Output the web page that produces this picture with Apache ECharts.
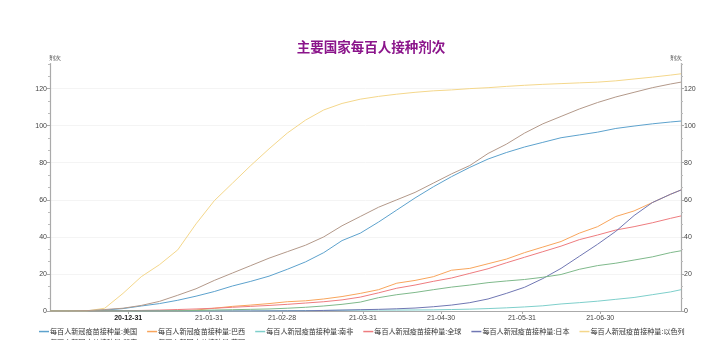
<!DOCTYPE html>
<html><head><meta charset="utf-8">
<script src="https://cdn.jsdelivr.net/npm/echarts@6/dist/echarts.min.js"></script>
<style>html,body{margin:0;padding:0;background:#fff}#c{width:706px;height:340px}</style>
</head><body><div id="c"></div>
<script>
var dates = ['2020-12-01','2020-12-08','2020-12-15','2020-12-22','2020-12-29','2021-01-05','2021-01-12','2021-01-19','2021-01-26','2021-02-02','2021-02-09','2021-02-16','2021-02-23','2021-03-02','2021-03-09','2021-03-16','2021-03-23','2021-03-30','2021-04-06','2021-04-13','2021-04-20','2021-04-27','2021-05-04','2021-05-11','2021-05-18','2021-05-25','2021-06-01','2021-06-08','2021-06-15','2021-06-22','2021-06-29','2021-07-06','2021-07-13','2021-07-20','2021-07-27','2021-07-31'];
var usa    = [0,0,0.1,0.5,1.3,2.7,4,5.8,8,10.5,13.5,16,18.8,22.5,26.5,31.5,38,42,48,54.5,61,67,72.5,77.5,82,85.5,88.5,91,93.5,95,96.5,98.5,99.8,101,102,102.5];
var brazil = [0,0,0,0,0,0,0,0,0.5,1.5,2.5,3.2,4,5,5.5,6.5,7.8,9.5,11.5,15,16.5,18.5,22,23,25.5,28,31.5,34.5,37.5,42,45.5,51,54,58.5,63,65.3];
var southAfrica = [0,0,0,0,0,0,0,0,0,0,0,0,0.1,0.2,0.25,0.3,0.4,0.45,0.5,0.5,0.55,0.6,0.8,1,1.3,1.7,2.2,2.8,3.8,4.5,5.3,6.3,7.3,8.8,10.3,11.5];
var world  = [0,0,0,0.05,0.15,0.3,0.5,0.8,1.1,1.5,2,2.5,3,3.6,4.3,5,6,7.5,9.8,12.3,14,16,17.8,20.3,22.8,26,29,32,35,38.5,41,43.7,45.5,47.6,50,51.3];
var japan  = [0,0,0,0,0,0,0,0,0,0,0,0,0.02,0.05,0.1,0.3,0.5,0.7,0.9,1.2,1.6,2.3,3.2,4.5,6.5,9.5,12.8,17.5,23,29.5,36,43,51.5,58.5,63,65.3];
var israel = [0,0,0,1.5,9.5,18.5,25,33,47,59.5,69,78.5,87.5,96,103,108.5,112,114.3,115.8,117,118,118.8,119.3,120,120.5,121.2,121.8,122.3,122.7,123.1,123.5,124.2,125.2,126.2,127.3,128];
var india  = [0,0,0,0,0,0,0,0.1,0.3,0.5,0.7,0.9,1.1,1.5,2,2.7,3.6,4.8,7.2,8.8,10,11.5,12.9,14,15.3,16.2,17,18.2,19.7,22.5,24.5,25.8,27.5,29.2,31.5,32.5];
var uk     = [0,0,0.2,0.8,1.5,3,5.2,8.5,12,16.5,20.5,24.5,28.5,32,35.5,40,46,51,56,60,64,69,74,78.5,85,90,96,101,105,109,112.5,115.5,118,120.5,122.5,123.5];
var seriesNames = ['每百人新冠疫苗接种量:美国','每百人新冠疫苗接种量:巴西','每百人新冠疫苗接种量:南非','每百人新冠疫苗接种量:全球','每百人新冠疫苗接种量:日本','每百人新冠疫苗接种量:以色列','每百人新冠疫苗接种量:印度','每百人新冠疫苗接种量:英国'];
var labelDates = ['2020-12-31','2021-01-31','2021-02-28','2021-03-31','2021-04-30','2021-05-31','2021-06-30'];
var yTicks = [0,20,40,60,80,100,120];

var colors = ['#5da2cd','#f8a55c','#7ecfcb','#ee7c7f','#7077b3','#f4d78b','#7fb98b','#b3998a'];
var allVals = [usa,brazil,southAfrica,world,japan,israel,india,uk];
function ts(s){var p=s.split('-');return Date.UTC(+p[0],+p[1]-1,+p[2]);}
function fmt(v){var d=new Date(v);var y=String(d.getUTCFullYear()).slice(2);
  var m=('0'+(d.getUTCMonth()+1)).slice(-2);var dd=('0'+d.getUTCDate()).slice(-2);return y+'-'+m+'-'+dd;}
var labelTs = labelDates.map(ts);
var series = allVals.map(function(v,k){
  return {name:seriesNames[k],type:'line',showSymbol:false,symbol:'none',
    lineStyle:{width:1,color:colors[k]},itemStyle:{color:colors[k]},
    data:dates.map(function(d,i){return [ts(d),v[i]];})};
});
var yAxisBase = function(pos){
  return {type:'value',position:pos,min:0,max:133.5,interval:20,
    name:'剂次',nameLocation:'end',nameGap:2,
    nameTextStyle:{fontSize:6,color:'#333',align:pos==='left'?'left':'right',padding:pos==='left'?[0,0,0,-1]:[0,-1,0,0]},
    axisLine:{show:true,lineStyle:{color:'#aaa',width:1.2}},
    axisTick:{show:true,customValues:yTicks,length:3,lineStyle:{color:'#aaa'}},
    minorTick:{show:true,splitNumber:3,length:2,lineStyle:{color:'#bbb'}},
    axisLabel:{customValues:yTicks,fontSize:7,color:'#444',margin:3},
    splitLine:{show:pos==='left',lineStyle:{color:'#f4f4f4'}}};
};
var legendBase = function(top,names){
  return {left:34,top:top,width:690,itemWidth:10,itemHeight:1.5,icon:'rect',itemGap:10,
    textStyle:{fontSize:7.1,color:'#333',fontFamily:'Noto Sans CJK SC',padding:[0,0,0,-4]},data:names};
};
var chart = echarts.init(document.getElementById('c'));
chart.setOption({
  backgroundColor:'#fff',
  animation:false,
  color:colors,
  title:{text:'主要国家每百人接种剂次',left:366,textAlign:'center',top:35,
    textStyle:{color:'#8b158b',fontSize:13.5,fontWeight:'bold',fontFamily:'Noto Sans CJK SC'}},
  grid:{left:50,right:25,top:63.6,bottom:29,containLabel:false},
  legend:[legendBase(323,seriesNames.slice(0,6)),legendBase(334,seriesNames.slice(6))],
  xAxis:{type:'value',min:ts('2020-12-01'),max:ts('2021-07-31'),
    axisLine:{onZero:false,lineStyle:{color:'#aaa',width:1.2}},
    axisTick:{show:true,customValues:labelTs,length:3,lineStyle:{color:'#aaa'}},
    splitLine:{show:false},
    axisLabel:{customValues:labelTs,fontSize:7,color:'#444',margin:4,
      formatter:function(v){var s=fmt(v);return s==='20-12-31'?'{b|'+s+'}':s;},
      rich:{b:{fontWeight:'bold',fontSize:7,color:'#222'}}}},
  yAxis:[yAxisBase('left'),yAxisBase('right')],
  series:series
});
</script></body></html>
